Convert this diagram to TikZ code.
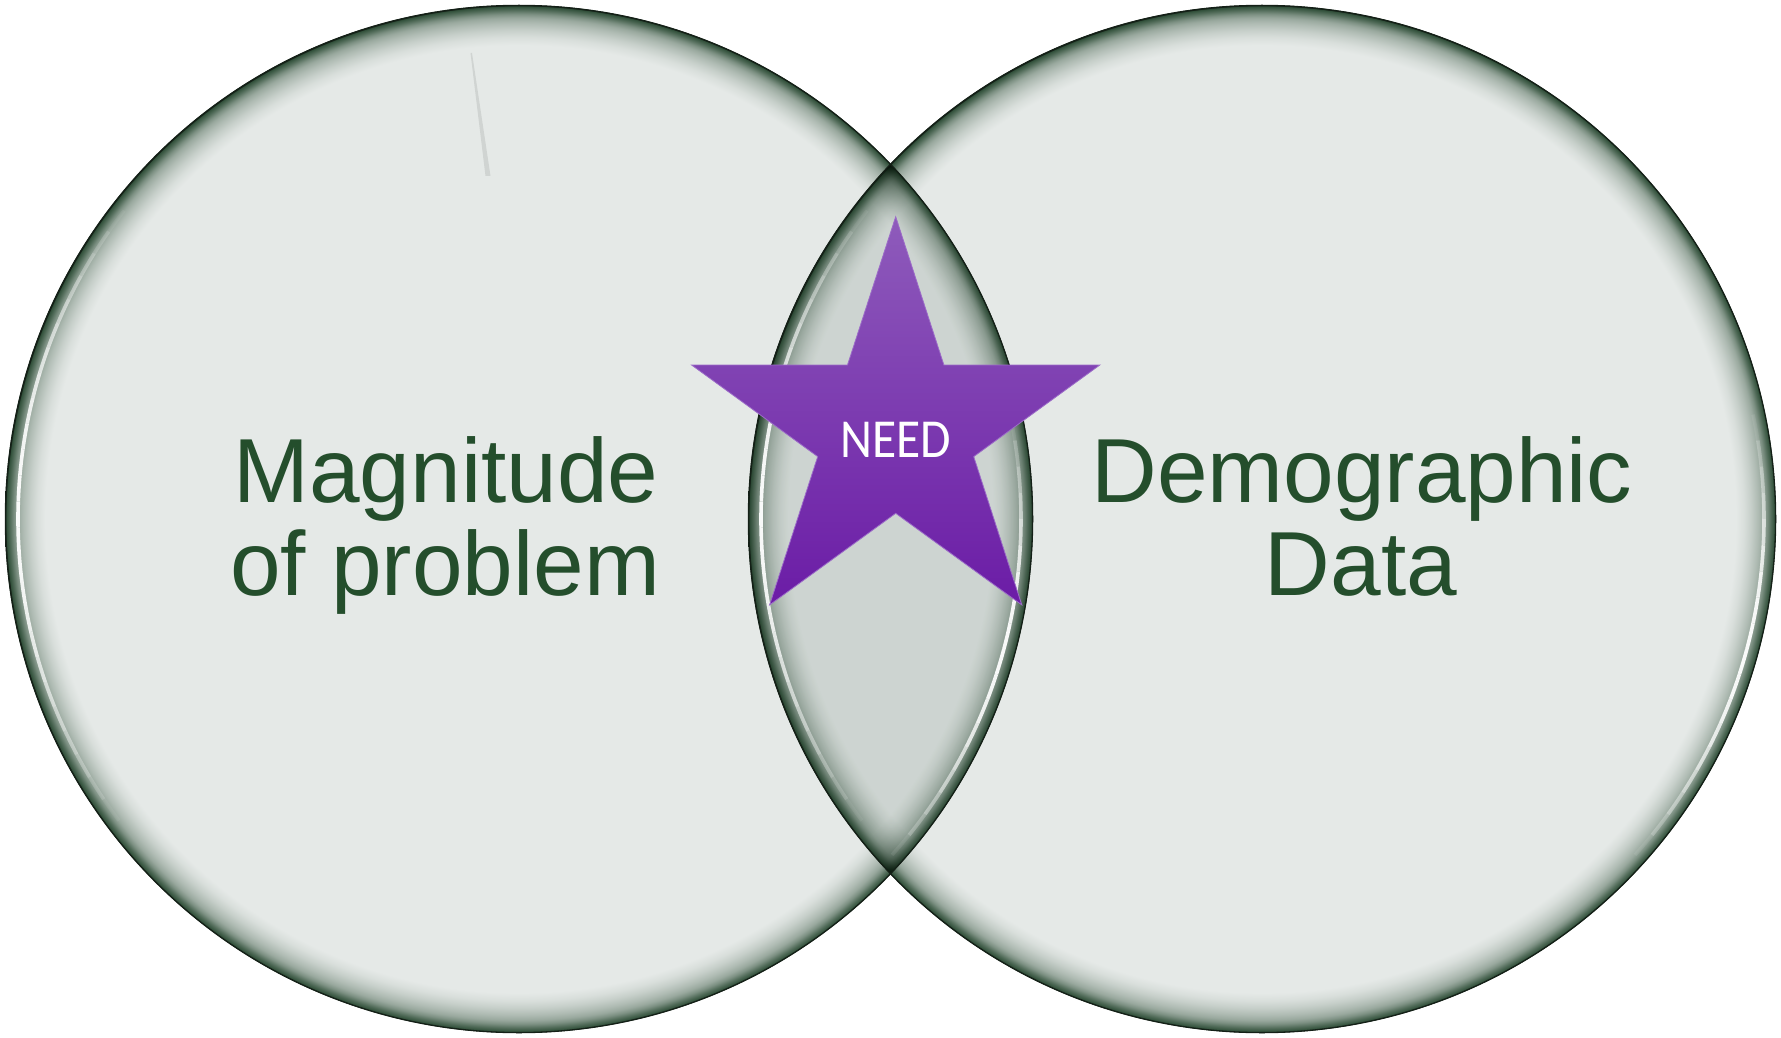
\documentclass[tikz,border=0pt]{standalone}
\usepackage{fontspec}
\setmainfont{Liberation Sans}
\newfontfamily\labelfont{Liberation Sans}
\newfontfamily\needfont[FakeStretch=0.9]{Carlito}
\definecolor{fillc}{HTML}{E5E9E7}
\definecolor{rimc}{HTML}{31503A}
\definecolor{edgec}{HTML}{142017}
\definecolor{txtc}{HTML}{244E2C}
\definecolor{startop}{HTML}{8E5BBB}
\definecolor{starmid}{HTML}{7B2DB6}
\definecolor{starbot}{HTML}{6B1CA6}
\definecolor{staredge}{HTML}{9C6CC8}
\definecolor{scratch}{HTML}{D0D4D2}
\colorlet{rimA}{rimc!82!fillc}
\colorlet{rimB}{rimc!58!fillc}
\colorlet{rimC}{rimc!42!fillc}
\colorlet{rimD}{rimc!30!fillc}
\colorlet{rimE}{rimc!17!fillc}
\colorlet{rimF}{rimc!7!fillc}
\pgfdeclareradialshading{rimshade}{\pgfpoint{0bp}{0bp}}{%
  color(0bp)=(fillc); color(23.05bp)=(fillc); color(23.44bp)=(rimF);
  color(23.78bp)=(rimE); color(24.12bp)=(rimD); color(24.37bp)=(rimC);
  color(24.56bp)=(rimB); color(24.76bp)=(rimA); color(24.93bp)=(rimc);
  color(24.98bp)=(edgec); color(25bp)=(edgec); color(50bp)=(edgec)}
\begin{document}
\begin{tikzpicture}[x=1pt,y=-1pt,
  lbl/.style={inner sep=0pt, text=txtc, anchor=base, font=\labelfont\fontsize{91}{93}\selectfont},
  edgeline/.style={draw=edgec, line width=1.3pt},
  glint/.style={white, line width=3.6pt}]
\useasboundingbox (0,0) rectangle (1781,1038);
\fill[white] (0,0) rectangle (1781,1038);
\coordinate (L) at (519,519);
\coordinate (R) at (1262,519);
% circles, multiplied so the overlap darkens and both rims show
\shade[shading=rimshade, blend mode=multiply] (L) circle[radius=514pt];
\shade[shading=rimshade, blend mode=multiply] (R) circle[radius=514pt];
% faint scratch
\fill[scratch] (470.5,53) -- (472,53) -- (490.5,176) -- (485.5,176) -- cycle;
% glossy highlights (fading at both ends) and crisp edges
\foreach \c in {L,R}{
  \foreach \a in {142,145,...,214}{
    \pgfmathsetmacro\op{0.95*sin(180*(\a+1.5-142)/75)}
    \draw[glint, draw opacity=\op] ([shift={(\a:501pt)}]\c) arc[start angle=\a, end angle=\a+3, radius=501pt];
  }
  \foreach \a in {-42,-39,...,9}{
    \pgfmathsetmacro\op{0.95*sin(180*(\a+1.5+42)/54)}
    \draw[glint, draw opacity=\op] ([shift={(\a:502pt)}]\c) arc[start angle=\a, end angle=\a+3, radius=502pt];
  }
  \draw[edgeline] (\c) circle[radius=513.6pt];
}
% star
\shade[top color=startop, middle color=starmid, bottom color=starbot, draw=staredge, line width=0.8pt]
  (895.7,216.7) -- (943.9,365) -- (1099.8,365) -- (973.7,456.6) -- (1021.8,604.9)
  -- (895.7,513.3) -- (769.6,604.9) -- (817.7,456.6) -- (691.6,365) -- (847.5,365) -- cycle;
\node[text=white, font=\needfont\fontsize{55}{55}\selectfont, inner sep=0pt, anchor=base] (need) at (895.5,457) {NEED};
% labels
\node[lbl] (mag1) at (446,502) {Magnitude};
\node[lbl] (mag2) at (445,595) {of problem};
\node[lbl] (dem1) at (1362,502) {Demographic};
\node[lbl] (dem2) at (1361,595) {Data};
\end{tikzpicture}
\end{document}
